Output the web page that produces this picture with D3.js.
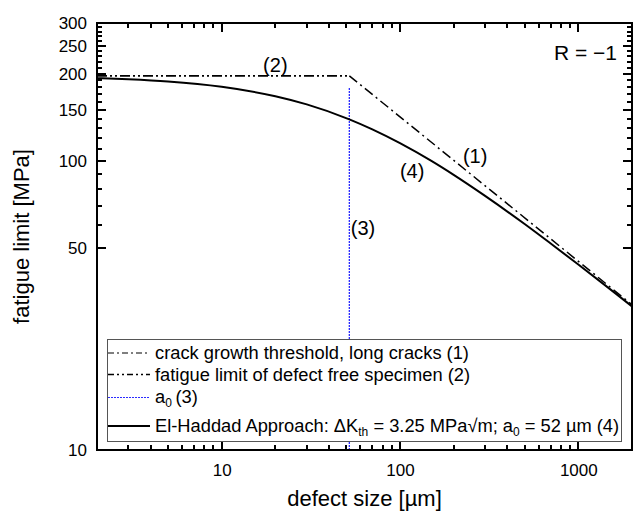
<!DOCTYPE html>
<html>
<head>
<meta charset="utf-8">
<script src="https://cdn.jsdelivr.net/npm/d3@7"></script>
<style>
  body { margin: 0; background: #fff; }
  svg { font-family: "Liberation Sans", Arial, sans-serif; }
</style>
</head>
<body>
<svg id="chart" width="635" height="514"></svg>
<script>
// El-Haddad curve (4)
var haddadSize = [2, 3, 5, 10, 20, 30, 52, 70, 100, 150, 200, 300, 500, 700, 1000, 1500, 2000];
var haddadLimit = [193.3, 191.5, 188.2, 180.4, 167.4, 156.9, 139.3, 128.6, 115.2, 100, 89.5, 75.7, 60.5, 51.8, 43.8, 36.1, 31.4];

// crack growth threshold, long cracks (1)
var longSize = [52, 2000];
var longLimit = [197, 31.8];

// fatigue limit of defect free specimen (2)
var freeSize = [2, 52];
var freeLimit = [197, 197];

// a0 (3)
var a0Size = [52, 52];
var a0Limit = [10, 180];

var xMajor = [10, 100, 1000];
var xMinor = [3, 4, 5, 6, 7, 8, 9, 20, 30, 40, 50, 60, 70, 80, 90, 200, 300, 400, 500, 600, 700, 800, 900];
var yMajor = [10, 50, 100, 150, 200, 250, 300];
var yMinor = [60, 70, 80, 90, 110, 120, 130, 140, 160, 170, 180, 190, 210, 220, 230, 240, 260, 270, 280, 290];

// labels placed in data coordinates
var notes = [
  { a: 20, s: 203, text: "(2)" },
  { a: 264, s: 98.4, text: "(1)" },
  { a: 117, s: 87.3, text: "(4)" },
  { a: 62, s: 55.5, text: "(3)" }
];

var svg = d3.select("#chart"),
    plotLeft = 97, plotRight = 632, plotTop = 23, plotBottom = 450;

var xScale = d3.scaleLog().domain([2, 2000]).range([plotLeft, plotRight]);
var yScale = d3.scaleLog().domain([10, 300]).range([plotBottom, plotTop]);

svg.append("rect").attr("width", 635).attr("height", 514).attr("fill", "#fff");

var plot = svg.append("g");

function toPoints(xs, ys) {
  return xs.map(function(d, i) { return [d, ys[i]]; });
}

var line = d3.line()
    .x(function(d) { return xScale(d[0]); })
    .y(function(d) { return yScale(d[1]); });

plot.append("path")
    .datum(toPoints(a0Size, a0Limit))
    .attr("d", line)
    .attr("fill", "none")
    .attr("stroke", "#2b2bff")
    .attr("stroke-width", 1.3)
    .attr("stroke-dasharray", "2,1");

plot.append("path")
    .datum(toPoints(freeSize, freeLimit))
    .attr("d", line)
    .attr("fill", "none")
    .attr("stroke", "#000")
    .attr("stroke-width", 1.7)
    .attr("stroke-dasharray", "10,3,2,3,2,3");

plot.append("path")
    .datum(toPoints(longSize, longLimit))
    .attr("d", line)
    .attr("fill", "none")
    .attr("stroke", "#000")
    .attr("stroke-width", 1.5)
    .attr("stroke-dasharray", "10,4,2,4");

plot.append("path")
    .datum(toPoints(haddadSize, haddadLimit))
    .attr("d", line.curve(d3.curveMonotoneX))
    .attr("fill", "none")
    .attr("stroke", "#000")
    .attr("stroke-width", 2);

// tick labels through d3 axes
function styleAxis(g) {
  g.select(".domain").remove();
  g.selectAll(".tick line").remove();
  g.selectAll("text")
      .attr("fill", "#000")
      .style("font-size", "17px")
      .style("font-family", "Liberation Sans, Arial, sans-serif");
}
var fmt = function(d) { return d3.format("d")(d); };

svg.append("g")
    .attr("transform", "translate(0," + plotBottom + ")")
    .call(d3.axisBottom(xScale).tickValues(xMajor).tickFormat(fmt).tickSize(0).tickPadding(14))
    .call(styleAxis);
svg.append("g")
    .attr("transform", "translate(" + plotLeft + ",0)")
    .call(d3.axisLeft(yScale).tickValues(yMajor).tickFormat(fmt).tickSize(0).tickPadding(10))
    .call(styleAxis);

svg.append("rect")
    .attr("x", plotLeft).attr("y", plotTop)
    .attr("width", plotRight - plotLeft).attr("height", plotBottom - plotTop)
    .attr("fill", "none")
    .attr("stroke", "#000")
    .attr("stroke-width", 2);

// tick marks pointing inwards on all four sides
var tickMarks = svg.append("g")
    .attr("stroke", "#000")
    .attr("stroke-width", 2)
    .attr("shape-rendering", "crispEdges");
function addXTicks(values, len) {
  values.forEach(function(d) {
    var px = Math.round(xScale(d));
    tickMarks.append("line")
        .attr("x1", px).attr("x2", px)
        .attr("y1", plotBottom).attr("y2", plotBottom - len);
    tickMarks.append("line")
        .attr("x1", px).attr("x2", px)
        .attr("y1", plotTop).attr("y2", plotTop + len);
  });
}
function addYTicks(values, len) {
  values.forEach(function(d) {
    var py = Math.round(yScale(d));
    tickMarks.append("line")
        .attr("x1", plotLeft).attr("x2", plotLeft + len)
        .attr("y1", py).attr("y2", py);
    tickMarks.append("line")
        .attr("x1", plotRight).attr("x2", plotRight - len)
        .attr("y1", py).attr("y2", py);
  });
}
addXTicks(xMajor, 9);
addXTicks(xMinor, 5);
addYTicks(yMajor, 9);
addYTicks(yMinor, 5);

// curve labels
svg.selectAll(".note")
  .data(notes)
  .enter().append("text")
    .attr("class", "note")
    .attr("x", function(d) { return xScale(d.a); })
    .attr("y", function(d) { return yScale(d.s); })
    .attr("text-anchor", "middle")
    .style("font-size", "20px")
    .text(function(d) { return d.text; });

svg.append("text")
    .attr("x", 617).attr("y", 60)
    .attr("text-anchor", "end")
    .style("font-size", "21px")
    .text("R = \u22121");

// axis titles
svg.append("text")
    .attr("x", (plotLeft + plotRight) / 2).attr("y", 506)
    .attr("text-anchor", "middle")
    .style("font-size", "22px")
    .text("defect size [\u00b5m]");

svg.append("text")
    .attr("transform", "translate(29," + (plotTop + plotBottom) / 2 + ") rotate(-90)")
    .attr("text-anchor", "middle")
    .style("font-size", "22px")
    .text("fatigue limit [MPa]");

// legend
var legend = svg.append("g");
legend.append("rect")
    .attr("x", 107.5).attr("y", 339.5)
    .attr("width", 514).attr("height", 102)
    .attr("fill", "#fff")
    .attr("stroke", "#555")
    .attr("stroke-width", 1);

var rows = [
  { y: 353, dash: "6,3,2,3", color: "#000", width: 1.2 },
  { y: 374.5, dash: "6,3,2,3,2,3", color: "#000", width: 1.4 },
  { y: 397.5, dash: "2,1", color: "#2b2bff", width: 1.2 },
  { y: 426, dash: null, color: "#000", width: 2 }
];
rows.forEach(function(r) {
  legend.append("line")
      .attr("x1", 108).attr("x2", 150)
      .attr("y1", r.y).attr("y2", r.y)
      .attr("stroke", r.color)
      .attr("stroke-width", r.width)
      .attr("stroke-dasharray", r.dash);
});

function legendText(yPos, parts) {
  var t = legend.append("text")
      .attr("x", 155).attr("y", yPos)
      .style("font-size", "18.3px");
  var shift = 0;
  parts.forEach(function(p) {
    if (p.sub) {
      t.append("tspan").attr("dy", 4 - shift).style("font-size", "12px").text(p.sub);
      shift = 4;
    } else {
      t.append("tspan").attr("dy", -shift).text(p.text);
      shift = 0;
    }
  });
}
legendText(359, [{ text: "crack growth threshold, long cracks (1)" }]);
legendText(380.5, [{ text: "fatigue limit of defect free specimen (2)" }]);
legendText(403, [{ text: "a" }, { sub: "0" }, { text: "\u2009(3)" }]);
legendText(432, [
  { text: "El-Haddad Approach: \u0394K" }, { sub: "th" },
  { text: " = 3.25 MPa\u221am; a" }, { sub: "0" }, { text: " = 52 \u00b5m (4)" }
]);
</script>
</body>
</html>
